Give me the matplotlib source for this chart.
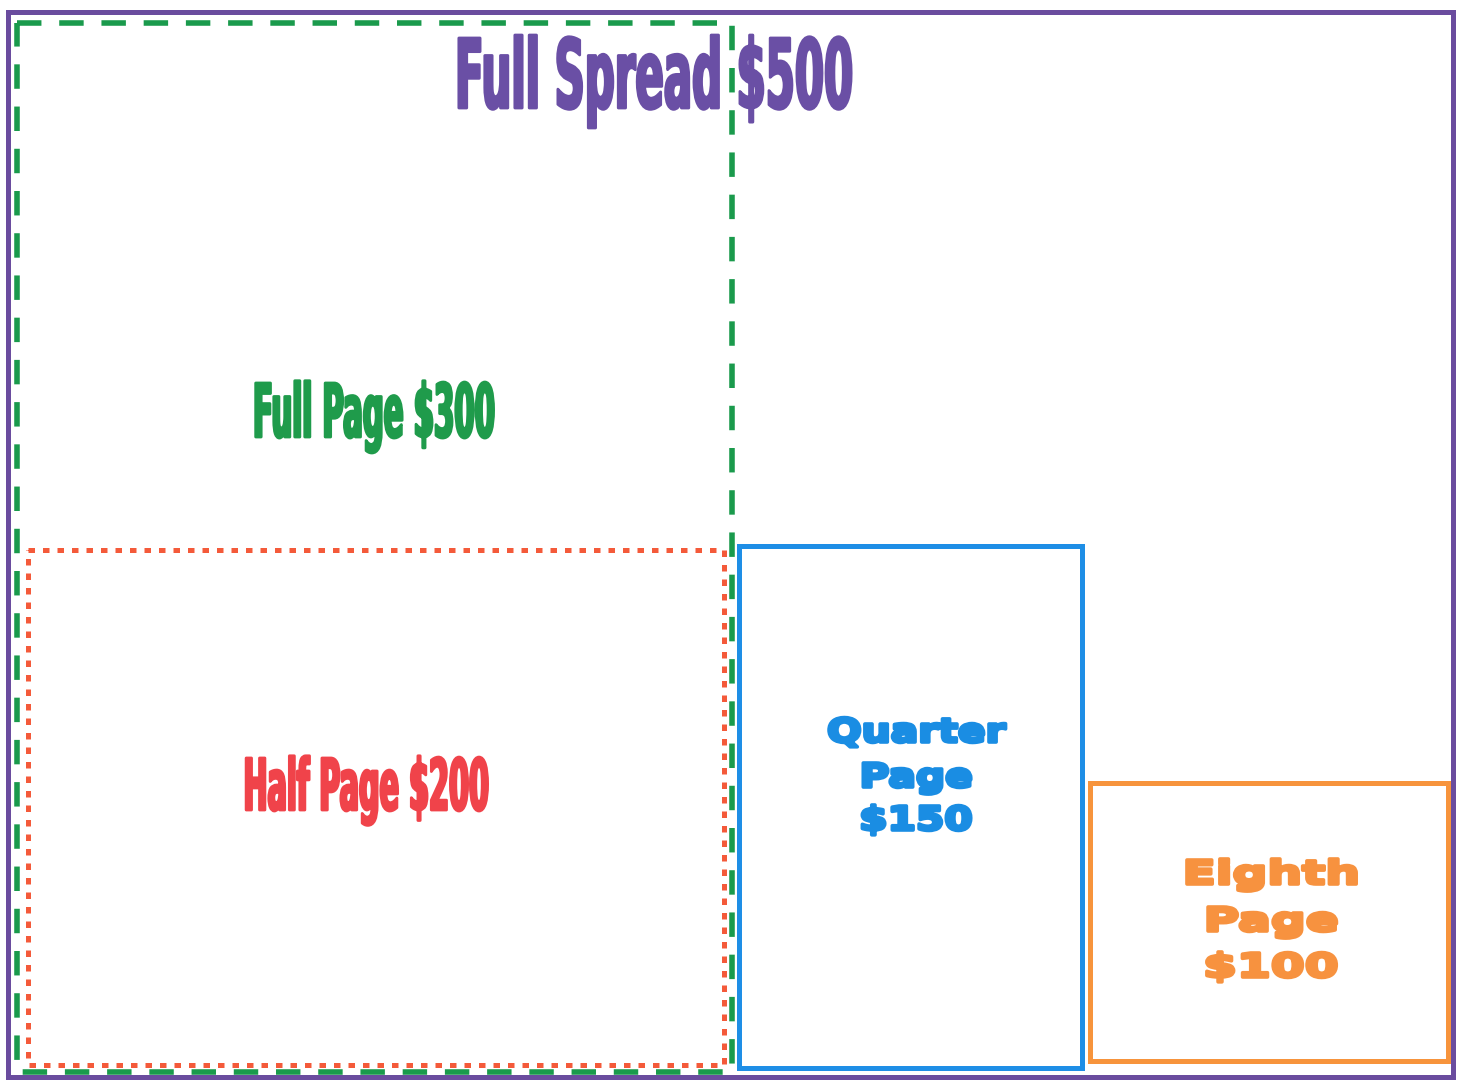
import matplotlib
matplotlib.use("Agg")
import matplotlib.pyplot as plt
from matplotlib.patches import Rectangle
from matplotlib import patheffects, font_manager
from matplotlib.transforms import Affine2D

# ad sizes, prices and their boxes on the sheet (sheet units)
ad_names = ["Full Spread", "Full Page", "Half Page", "Quarter Page", "Eighth Page"]
prices = [500, 300, 200, 150, 100]
box_left = [8, 17, 28, 739, 1090]
box_top = [12, 23, 550, 546, 783]
box_right = [1453, 732, 724, 1082, 1448]
box_bottom = [1077, 1072, 1065, 1068, 1061]

# label lines for each ad
label_lines = [
    ["Full Spread $500"],
    ["Full Page $300"],
    ["Half Page $200"],
    ["Quarter", "Page", "$150"],
    ["Eighth", "Page", "$100"],
]

# styles / layout
box_colors = ["#6a4c9e", "#1a9a4c", "#f45a3a", "#1e8ee6", "#f7943c"]
text_colors = ["#6a4fa5", "#1f9b4b", "#f0434a", "#1a8de3", "#f7923f"]
box_widths = [3.6, 4.0, 3.6, 3.6, 3.6]
box_styles = ["solid", (0, (4.4, 3.2)), (0, (1.3, 1.6)), "solid", "solid"]
label_cx = [654, 374, 366, 916, 1271]
label_baselines = [[108], [437], [810], [742, 787, 830], [884, 931, 977]]
cap_px = [70, 54, 52, 24, 24]
first_width_px = [398, 242, 245, 178, 177]
narrow = [True, True, True, False, False]

fig = plt.figure(figsize=(14.6, 10.81), dpi=100)
ax = fig.add_axes([0, 0, 1, 1])
ax.set_xlim(0, 1460)
ax.set_ylim(1081, 0)
ax.axis("off")

for i in range(len(ad_names)):
    w = box_right[i] - box_left[i]
    h = box_bottom[i] - box_top[i]
    ax.add_patch(Rectangle((box_left[i], box_top[i]), w, h, fill=False,
                           edgecolor=box_colors[i], linewidth=box_widths[i],
                           linestyle=box_styles[i], capstyle="butt",
                           joinstyle="miter", zorder=3 + i * 0.1))

installed = {f.name for f in font_manager.fontManager.ttflist}
narrow_font = "Liberation Sans Narrow" if "Liberation Sans Narrow" in installed else "DejaVu Sans"
wide_font = "DejaVu Sans"


class Squash(patheffects.AbstractPathEffect):
    """scale glyphs horizontally around cx and thicken them a bit"""

    def __init__(self, sx, cx, color, stroke):
        super().__init__()
        self.sx, self.cx, self.color, self.stroke = sx, cx, color, stroke

    def draw_path(self, renderer, gc, tpath, affine, rgbFace=None):
        t = affine + Affine2D().translate(-self.cx, 0).scale(self.sx, 1).translate(self.cx, 0)
        gc0 = renderer.new_gc()
        gc0.copy_properties(gc)
        gc0.set_foreground(self.color)
        gc0.set_linewidth(self.stroke)
        gc0.set_joinstyle("round")
        renderer.draw_path(gc0, tpath, t, rgbFace)
        gc0.restore()


texts = []
for i, lines in enumerate(label_lines):
    fam = narrow_font if narrow[i] else wide_font
    ratio = 0.716 if fam.startswith("Liberation") else 0.729
    size = cap_px[i] / ratio * 72 / 100
    row = []
    for line, yb in zip(lines, label_baselines[i]):
        t = ax.text(label_cx[i], yb, line, ha="center", va="baseline",
                    fontsize=size, fontweight="bold", family=fam,
                    color=text_colors[i], zorder=10)
        row.append(t)
    texts.append(row)

fig.canvas.draw()
renderer = fig.canvas.get_renderer()
for i, row in enumerate(texts):
    ext = row[0].get_window_extent(renderer)
    sx = first_width_px[i] / ext.width
    cx = ax.transData.transform((label_cx[i], 0))[0]
    stroke = 2.0 if narrow[i] else 2.6
    for t in row:
        t.set_path_effects([Squash(sx, cx, text_colors[i], stroke)])

fig.savefig("out.png", dpi=100)
